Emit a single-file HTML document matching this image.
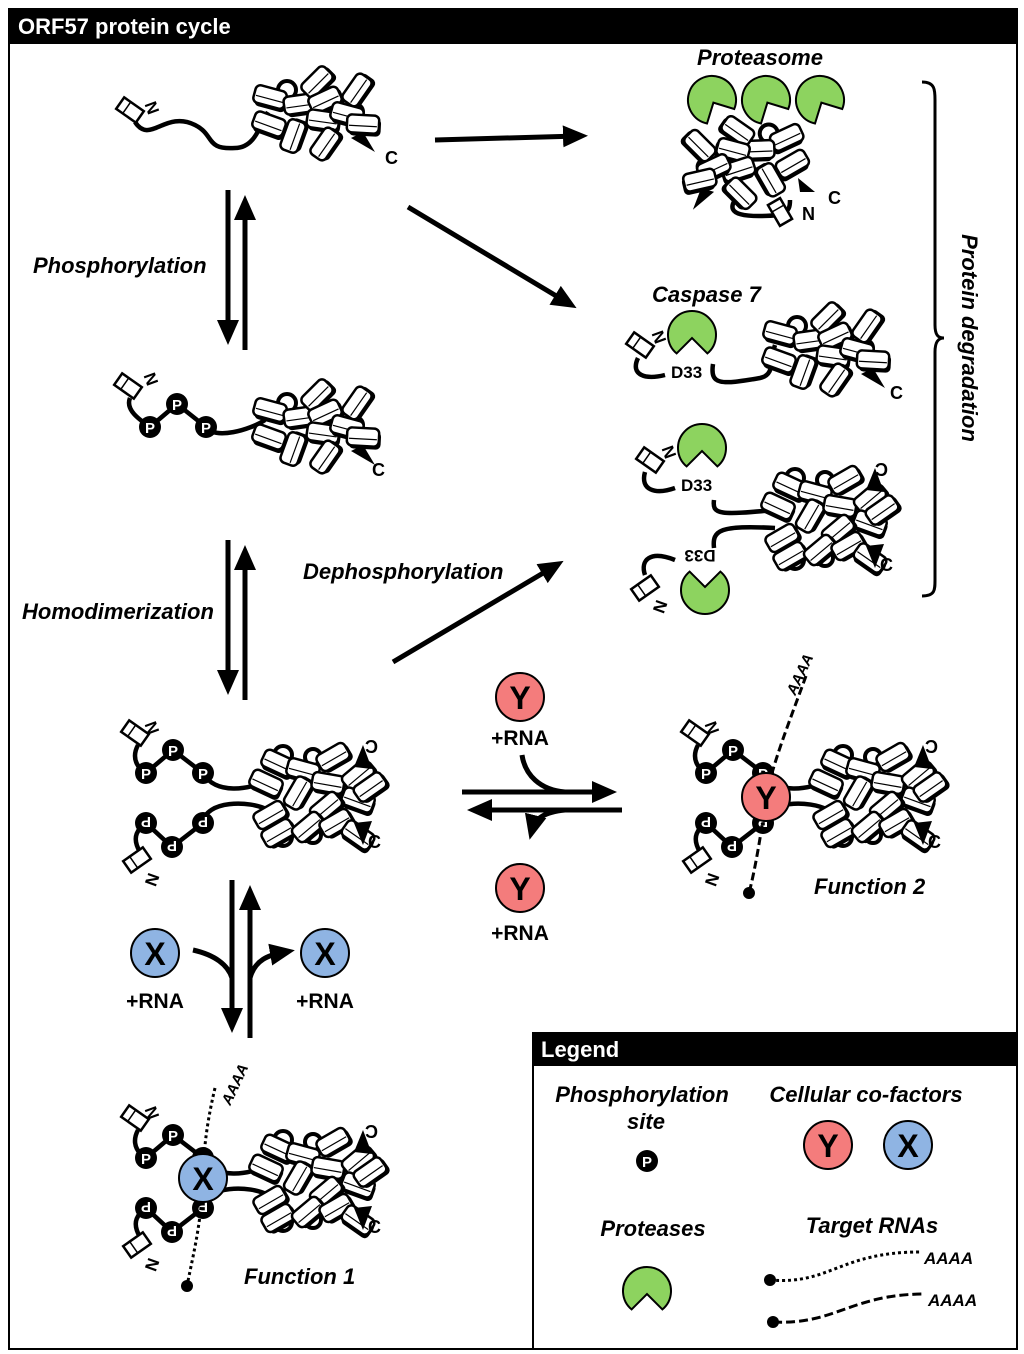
<!DOCTYPE html>
<html><head><meta charset="utf-8"><style>
html,body{margin:0;padding:0;background:#fff}
svg{display:block}
text{font-family:"Liberation Sans",Arial,sans-serif;font-weight:bold}
.it{font-style:italic}
</style></head><body>
<svg width="1024" height="1354" viewBox="0 0 1024 1354" xmlns="http://www.w3.org/2000/svg">
<defs>
<marker id="ah" markerWidth="6" markerHeight="6" refX="3" refY="3" orient="auto" markerUnits="strokeWidth">
<path d="M0,0.8 L5,3 L0,5.2 Z" fill="#000"/></marker>
<g id="r"><rect x="-14" y="-6" width="32" height="18" rx="5" fill="#000"/><rect x="-16" y="-9" width="32" height="18" rx="5" fill="#fff" stroke="#000" stroke-width="2.5"/><line x1="-14" y1="2" x2="14" y2="2" stroke="#000" stroke-width="1.2"/></g>
<g id="mono">
<circle cx="-28" cy="-22" r="9" fill="none" stroke="#000" stroke-width="4"/>
<circle cx="-2" cy="-22" r="8" fill="none" stroke="#000" stroke-width="4"/>
<circle cx="40" cy="0" r="8" fill="none" stroke="#000" stroke-width="4"/>
<use href="#r" transform="translate(-45,-15) rotate(15)"/>
<use href="#r" transform="translate(-46,12) rotate(20)"/>
<use href="#r" transform="translate(-15,-8) rotate(-8)"/>
<use href="#r" transform="translate(2,-30) rotate(-45)"/>
<use href="#r" transform="translate(-22,24) rotate(-70)"/>
<use href="#r" transform="translate(10,-12) rotate(-25)"/>
<use href="#r" transform="translate(8,8) rotate(8)"/>
<use href="#r" transform="translate(42,-22) rotate(-55)"/>
<use href="#r" transform="translate(32,2) rotate(15)"/>
<use href="#r" transform="translate(10,32) rotate(-55)"/>
<use href="#r" transform="translate(48,12) rotate(3)"/>
<path d="M36,26 L60,40 L48,20 Z" fill="#000"/>
</g>
<g id="dimer">
<circle cx="-35" cy="-40" r="9" fill="none" stroke="#000" stroke-width="4"/>
<circle cx="-5" cy="-38" r="8" fill="none" stroke="#000" stroke-width="4"/>
<circle cx="-35" cy="42" r="9" fill="none" stroke="#000" stroke-width="4"/>
<circle cx="-5" cy="40" r="8" fill="none" stroke="#000" stroke-width="4"/>
<use href="#r" transform="translate(-40,-32) rotate(25)"/>
<use href="#r" transform="translate(-52,-12) rotate(25)"/>
<use href="#r" transform="translate(-15,-25) rotate(15)"/>
<use href="#r" transform="translate(15,-38) rotate(-30)"/>
<use href="#r" transform="translate(-20,-2) rotate(-60)"/>
<use href="#r" transform="translate(10,-12) rotate(10)"/>
<use href="#r" transform="translate(40,-20) rotate(-40)"/>
<use href="#r" transform="translate(40,5) rotate(20)"/>
<use href="#r" transform="translate(8,12) rotate(-40)"/>
<use href="#r" transform="translate(-48,20) rotate(-30)"/>
<use href="#r" transform="translate(-40,38) rotate(-30)"/>
<use href="#r" transform="translate(-10,32) rotate(-40)"/>
<use href="#r" transform="translate(18,28) rotate(-30)"/>
<use href="#r" transform="translate(40,40) rotate(35)"/>
<use href="#r" transform="translate(52,-8) rotate(-35)"/>
<path d="M36,-28 L45,-50 L54,-26 Z" fill="#000"/>
<path d="M36,28 L45,50 L54,26 Z" fill="#000"/>
</g>
<g id="nb"><rect x="-12" y="-7" width="24" height="14" fill="#fff" stroke="#000" stroke-width="2.5"/><line x1="-4" y1="-7" x2="-4" y2="7" stroke="#000" stroke-width="1.5"/></g>
<path id="pac" d="M-15.4,18.4 A24,24 0 1 1 15.4,18.4 L0,3 Z" fill="#8dd35f" stroke="#000" stroke-width="2"/>
<g id="pp"><circle r="11" fill="#000"/><text y="6" text-anchor="middle" font-size="15" fill="#fff">P</text></g>
<g id="pd"><circle r="11" fill="#000"/><text y="6" text-anchor="middle" font-size="15" fill="#fff" transform="rotate(180)">P</text></g>
</defs>

<!-- frame -->
<rect x="9" y="9" width="1008" height="1340" fill="none" stroke="#000" stroke-width="2"/>
<rect x="9" y="9" width="1008" height="35" fill="#000"/>
<text x="18" y="34" font-size="22" fill="#fff">ORF57 protein cycle</text>

<!-- monomer top -->
<path d="M135,122 C150,145 165,110 195,125 C215,135 205,150 235,148 C255,148 260,125 268,112" fill="none" stroke="#000" stroke-width="4.5"/>
<use href="#nb" transform="translate(130,110) rotate(35)"/>
<text x="150" y="108" font-size="17" transform="rotate(70 150 102)">N</text>
<use href="#mono" transform="translate(315,112)"/>
<text x="385" y="164" font-size="18">C</text>

<!-- phospho monomer -->
<path d="M130,398 C125,410 140,420 150,427 L177,404 L206,427 C215,440 250,430 265,420" fill="none" stroke="#000" stroke-width="4.5"/>
<use href="#nb" transform="translate(128,386) rotate(35)"/>
<text x="147" y="382" font-size="17" transform="rotate(70 150 376)">N</text>
<use href="#pp" transform="translate(150,427)"/>
<use href="#pp" transform="translate(177,404)"/>
<use href="#pp" transform="translate(206,427)"/>
<use href="#mono" transform="translate(315,425)"/>
<text x="372" y="476" font-size="18">C</text>

<!-- dimer -->
<g id="dimfull">
<path d="M138,745 C130,760 140,770 146,773 L173,750 L203,773 C215,795 250,790 268,780" fill="none" stroke="#000" stroke-width="4.5"/>
<path d="M140,852 C130,835 140,828 146,823 L172,847 L203,823 C205,800 250,800 268,810" fill="none" stroke="#000" stroke-width="4.5"/>
<use href="#nb" transform="translate(135,733) rotate(35)"/>
<text x="150" y="728" font-size="17" transform="rotate(70 150 722)">N</text>
<use href="#nb" transform="translate(137,860) rotate(-35)"/>
<text x="150" y="885" font-size="17" transform="rotate(110 154 878)">N</text>
<use href="#pp" transform="translate(146,773)"/>
<use href="#pp" transform="translate(173,750)"/>
<use href="#pp" transform="translate(203,773)"/>
<use href="#pd" transform="translate(146,823)"/>
<use href="#pd" transform="translate(172,847)"/>
<use href="#pd" transform="translate(203,823)"/>
<use href="#dimer" transform="translate(318,795)"/>
<text x="368" y="752" font-size="18" transform="rotate(180 373 746)">C</text>
<text x="368" y="848" font-size="18">C</text>
</g>

<!-- function 2 -->
<use href="#dimfull" transform="translate(560,0)"/>
<path d="M806,676 C790,720 770,770 766,800 C760,840 755,870 749,893" fill="none" stroke="#000" stroke-width="3" stroke-dasharray="8,4"/>
<circle cx="749" cy="893" r="6" fill="#000"/>
<text x="785" y="690" font-size="15" class="it" transform="rotate(-65 795 685)">AAAA</text>
<circle cx="766" cy="797" r="24" fill="#f47c7c" stroke="#000" stroke-width="2"/>
<text x="766" y="809" font-size="32" text-anchor="middle">Y</text>
<text x="814" y="894" font-size="22" class="it">Function 2</text>

<!-- function 1 -->
<use href="#dimfull" transform="translate(0,385)"/>
<path d="M215,1088 C205,1130 203,1160 203,1185 C200,1230 192,1260 187,1286" fill="none" stroke="#000" stroke-width="3" stroke-dasharray="3,3"/>
<circle cx="187" cy="1286" r="6" fill="#000"/>
<text x="220" y="1100" font-size="15" class="it" transform="rotate(-65 230 1095)">AAAA</text>
<circle cx="203" cy="1178" r="24" fill="#8fb4e3" stroke="#000" stroke-width="2"/>
<text x="203" y="1190" font-size="32" text-anchor="middle">X</text>
<text x="244" y="1284" font-size="22" class="it">Function 1</text>

<!-- arrows -->
<g stroke="#000" stroke-width="5" fill="none">
<line x1="435" y1="140" x2="578" y2="136" marker-end="url(#ah)"/>
<line x1="408" y1="207" x2="568" y2="303" marker-end="url(#ah)"/>
<line x1="228" y1="190" x2="228" y2="335" marker-end="url(#ah)"/>
<line x1="245" y1="350" x2="245" y2="205" marker-end="url(#ah)"/>
<line x1="228" y1="540" x2="228" y2="685" marker-end="url(#ah)"/>
<line x1="245" y1="700" x2="245" y2="555" marker-end="url(#ah)"/>
<line x1="232" y1="880" x2="232" y2="1023" marker-end="url(#ah)"/>
<line x1="250" y1="1038" x2="250" y2="895" marker-end="url(#ah)"/>
<line x1="393" y1="662" x2="555" y2="566" marker-end="url(#ah)"/>
<line x1="462" y1="792" x2="607" y2="792" marker-end="url(#ah)"/>
<line x1="622" y1="810" x2="477" y2="810" marker-end="url(#ah)"/>
<path d="M522,755 C525,775 540,790 565,792"/>
<path d="M565,810 C545,812 535,818 532,830" marker-end="url(#ah)"/>
<path d="M193,950 C215,955 228,965 232,978"/>
<path d="M250,978 C255,960 268,955 285,952" marker-end="url(#ah)"/>
</g>

<!-- Y / X cofactors -->
<circle cx="520" cy="697" r="24" fill="#f47c7c" stroke="#000" stroke-width="2"/>
<text x="520" y="709" font-size="32" text-anchor="middle">Y</text>
<text x="520" y="745" font-size="21" text-anchor="middle">+RNA</text>
<circle cx="520" cy="888" r="24" fill="#f47c7c" stroke="#000" stroke-width="2"/>
<text x="520" y="900" font-size="32" text-anchor="middle">Y</text>
<text x="520" y="940" font-size="21" text-anchor="middle">+RNA</text>
<circle cx="155" cy="953" r="24" fill="#8fb4e3" stroke="#000" stroke-width="2"/>
<text x="155" y="965" font-size="32" text-anchor="middle">X</text>
<text x="155" y="1008" font-size="21" text-anchor="middle">+RNA</text>
<circle cx="325" cy="953" r="24" fill="#8fb4e3" stroke="#000" stroke-width="2"/>
<text x="325" y="965" font-size="32" text-anchor="middle">X</text>
<text x="325" y="1008" font-size="21" text-anchor="middle">+RNA</text>

<!-- labels -->
<text x="33" y="273" font-size="22" class="it">Phosphorylation</text>
<text x="22" y="619" font-size="22" class="it">Homodimerization</text>
<text x="303" y="579" font-size="22" class="it">Dephosphorylation</text>

<!-- proteasome -->
<text x="760" y="65" font-size="22" class="it" text-anchor="middle">Proteasome</text>
<use href="#pac" transform="translate(712,100) rotate(-28)"/>
<use href="#pac" transform="translate(766,100) rotate(-28)"/>
<use href="#pac" transform="translate(820,100) rotate(-28)"/>
<path d="M735,200 C725,215 745,218 780,215 C790,212 790,205 790,200" fill="none" stroke="#000" stroke-width="4.5"/>
<use href="#mono" transform="translate(745,160) scale(-1,1) rotate(10)"/>
<use href="#nb" transform="translate(780,212) rotate(60)"/>
<text x="802" y="220" font-size="18">N</text>
<text x="828" y="204" font-size="18">C</text>
<path d="M798,178 L815,192 L800,192 Z" fill="#000"/>

<!-- caspase monomer -->
<text x="652" y="302" font-size="22" class="it">Caspase 7</text>
<use href="#pac" transform="translate(692,335)"/>
<use href="#nb" transform="translate(640,345) rotate(35)"/>
<text x="655" y="340" font-size="17" transform="rotate(70 658 334)">N</text>
<path d="M638,358 C630,375 645,380 665,375" fill="none" stroke="#000" stroke-width="4.5"/>
<text x="671" y="378" font-size="17">D33</text>
<path d="M713,364 C710,385 720,385 760,378 C775,375 770,360 775,345" fill="none" stroke="#000" stroke-width="4.5"/>
<use href="#mono" transform="translate(825,348)"/>
<text x="890" y="399" font-size="18">C</text>

<!-- caspase dimer -->
<use href="#pac" transform="translate(702,448)"/>
<use href="#nb" transform="translate(650,460) rotate(35)"/>
<text x="665" y="455" font-size="17" transform="rotate(70 668 449)">N</text>
<path d="M645,472 C640,490 655,495 675,488" fill="none" stroke="#000" stroke-width="4.5"/>
<text x="681" y="491" font-size="17">D33</text>
<path d="M714,500 C712,515 720,515 775,510" fill="none" stroke="#000" stroke-width="4.5"/>
<path d="M714,548 C712,530 720,525 775,528" fill="none" stroke="#000" stroke-width="4.5"/>
<text x="700" y="562" font-size="17" text-anchor="middle" transform="rotate(180 700 556)">D33</text>
<path d="M675,560 C650,550 640,560 645,575" fill="none" stroke="#000" stroke-width="4.5"/>
<use href="#nb" transform="translate(645,588) rotate(-35)"/>
<text x="658" y="612" font-size="17" transform="rotate(110 662 605)">N</text>
<use href="#pac" transform="translate(705,590) rotate(180)"/>
<use href="#dimer" transform="translate(830,518)"/>
<text x="878" y="475" font-size="18" transform="rotate(180 883 469)">C</text>
<text x="880" y="571" font-size="18">C</text>

<!-- brace -->
<path d="M922,82 C935,82 935,90 935,100 L935,325 C935,335 938,338 944,338 C938,338 935,342 935,352 L935,580 C935,590 935,596 922,596" fill="none" stroke="#000" stroke-width="3"/>
<text x="962" y="338" font-size="22" class="it" text-anchor="middle" transform="rotate(90 962 338)">Protein degradation</text>

<!-- legend -->
<rect x="533" y="1033" width="484" height="316" fill="#fff" stroke="#000" stroke-width="2"/>
<rect x="533" y="1033" width="484" height="33" fill="#000"/>
<text x="541" y="1057" font-size="22" fill="#fff">Legend</text>
<text x="642" y="1102" font-size="22" class="it" text-anchor="middle">Phosphorylation</text>
<text x="646" y="1129" font-size="22" class="it" text-anchor="middle">site</text>
<use href="#pp" transform="translate(647,1161)"/>
<text x="866" y="1102" font-size="22" class="it" text-anchor="middle">Cellular co-factors</text>
<circle cx="828" cy="1145" r="24" fill="#f47c7c" stroke="#000" stroke-width="2"/>
<text x="828" y="1157" font-size="32" text-anchor="middle">Y</text>
<circle cx="908" cy="1145" r="24" fill="#8fb4e3" stroke="#000" stroke-width="2"/>
<text x="908" y="1157" font-size="32" text-anchor="middle">X</text>
<text x="653" y="1236" font-size="22" class="it" text-anchor="middle">Proteases</text>
<use href="#pac" transform="translate(647,1291)"/>
<text x="872" y="1233" font-size="22" class="it" text-anchor="middle">Target RNAs</text>
<path d="M770,1280 C830,1285 840,1252 920,1252" fill="none" stroke="#000" stroke-width="3" stroke-dasharray="3,3"/>
<circle cx="770" cy="1280" r="6" fill="#000"/>
<text x="924" y="1264" font-size="17" class="it">AAAA</text>
<path d="M773,1322 C835,1325 850,1295 922,1294" fill="none" stroke="#000" stroke-width="3" stroke-dasharray="9,4"/>
<circle cx="773" cy="1322" r="6" fill="#000"/>
<text x="928" y="1306" font-size="17" class="it">AAAA</text>
</svg>
</body></html>
